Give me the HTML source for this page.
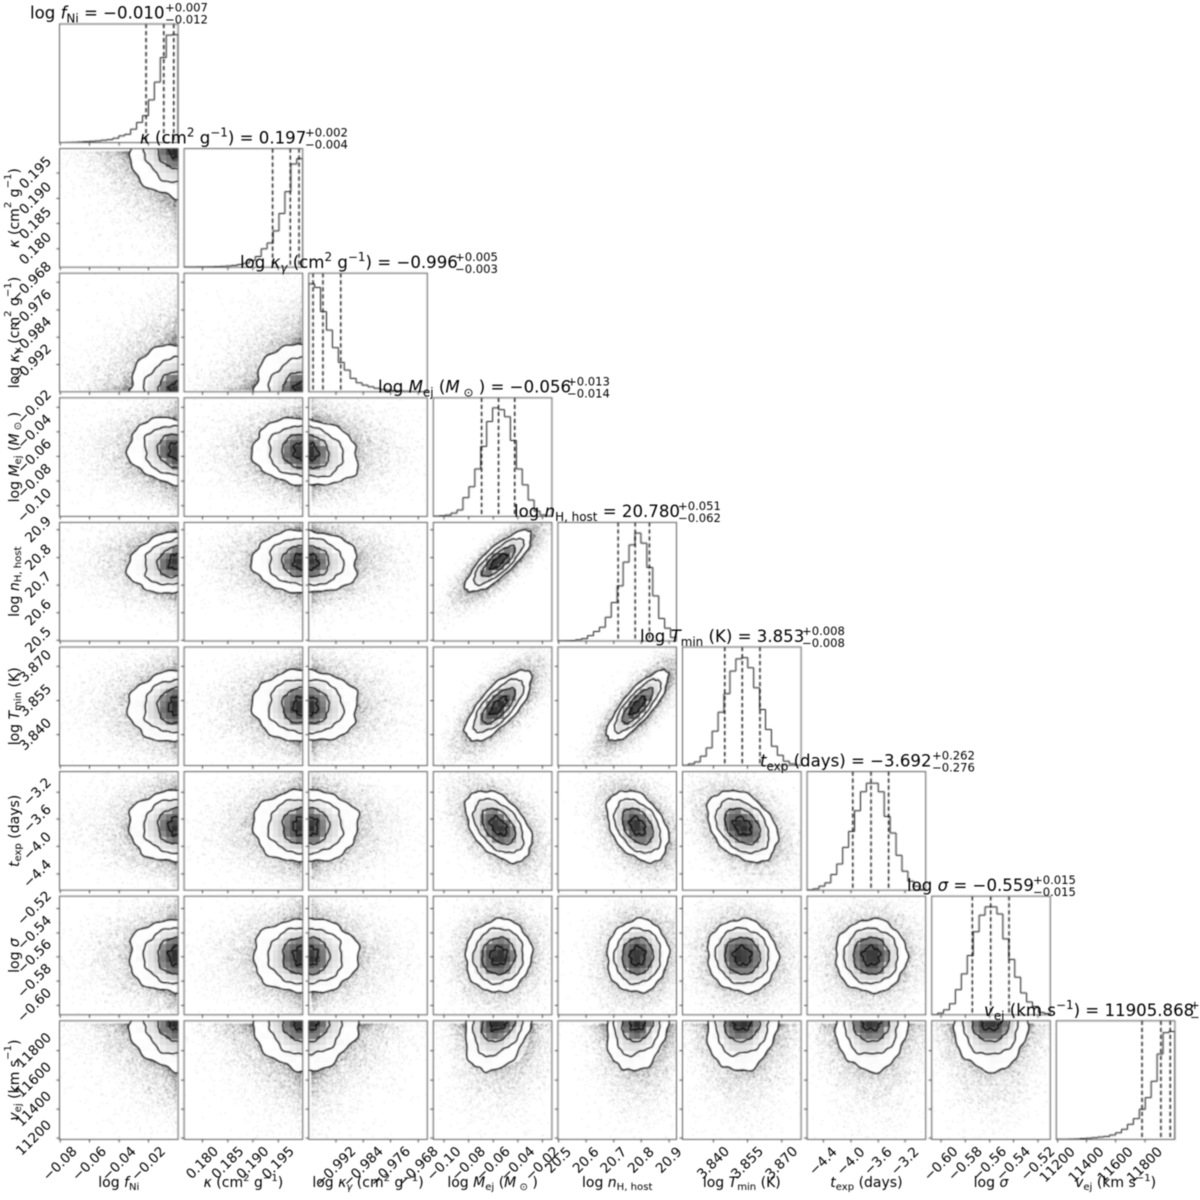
<!DOCTYPE html>
<html><head><meta charset="utf-8"><title>Corner plot</title>
<style>
html,body{margin:0;padding:0;background:#fff;width:1200px;height:1200px;overflow:hidden}
#w{position:relative;width:1200px;height:1200px;filter:blur(.45px)}
canvas,svg{position:absolute;left:0;top:0}
text{font-family:"DejaVu Sans","Liberation Sans",sans-serif;fill:#000;white-space:pre}
.t{font-size:13.6px;text-anchor:middle;dominant-baseline:central}
.l{font-size:14px;text-anchor:middle}
.yl{font-size:14px;text-anchor:middle;dominant-baseline:central}
.h{font-size:16.6px}
.sc{font-size:11.6px}
.i{font-style:italic}
.sb{font-size:.72em;baseline-shift:-.3em}
.su{font-size:.72em;baseline-shift:.6em}
</style></head><body><div id="w">
<canvas id="c" width="1200" height="1200"></canvas>
<svg width="1200" height="1200" viewBox="0 0 1200 1200" xmlns="http://www.w3.org/2000/svg">
<!-- x tick labels -->
<text class="t" transform="translate(60.2 1164) rotate(-45)">−0.08</text>
<text class="t" transform="translate(89.5 1164) rotate(-45)">−0.06</text>
<text class="t" transform="translate(119.2 1164) rotate(-45)">−0.04</text>
<text class="t" transform="translate(148.5 1164) rotate(-45)">−0.02</text>
<text class="t" transform="translate(202.5 1163) rotate(-45)">0.180</text>
<text class="t" transform="translate(227.9 1163) rotate(-45)">0.185</text>
<text class="t" transform="translate(252.9 1163) rotate(-45)">0.190</text>
<text class="t" transform="translate(278.3 1163) rotate(-45)">0.195</text>
<text class="t" transform="translate(336 1167) rotate(-45)">−0.992</text>
<text class="t" transform="translate(363.3 1167) rotate(-45)">−0.984</text>
<text class="t" transform="translate(390.5 1167) rotate(-45)">−0.976</text>
<text class="t" transform="translate(418.3 1167) rotate(-45)">−0.968</text>
<text class="t" transform="translate(444 1164) rotate(-45)">−0.10</text>
<text class="t" transform="translate(468.6 1164) rotate(-45)">−0.08</text>
<text class="t" transform="translate(493.3 1164) rotate(-45)">−0.06</text>
<text class="t" transform="translate(517.9 1164) rotate(-45)">−0.04</text>
<text class="t" transform="translate(542.4 1164) rotate(-45)">−0.02</text>
<text class="t" transform="translate(558.6 1160.5) rotate(-45)">20.5</text>
<text class="t" transform="translate(586.1 1160.5) rotate(-45)">20.6</text>
<text class="t" transform="translate(613.8 1160.5) rotate(-45)">20.7</text>
<text class="t" transform="translate(641.3 1160.5) rotate(-45)">20.8</text>
<text class="t" transform="translate(669.1 1160.5) rotate(-45)">20.9</text>
<text class="t" transform="translate(713.5 1163) rotate(-45)">3.840</text>
<text class="t" transform="translate(747.5 1163) rotate(-45)">3.855</text>
<text class="t" transform="translate(781.8 1163) rotate(-45)">3.870</text>
<text class="t" transform="translate(823.3 1161.5) rotate(-45)">−4.4</text>
<text class="t" transform="translate(851 1161.5) rotate(-45)">−4.0</text>
<text class="t" transform="translate(878.3 1161.5) rotate(-45)">−3.6</text>
<text class="t" transform="translate(905.1 1161.5) rotate(-45)">−3.2</text>
<text class="t" transform="translate(941.1 1164) rotate(-45)">−0.60</text>
<text class="t" transform="translate(965.4 1164) rotate(-45)">−0.58</text>
<text class="t" transform="translate(989.7 1164) rotate(-45)">−0.56</text>
<text class="t" transform="translate(1013.5 1164) rotate(-45)">−0.54</text>
<text class="t" transform="translate(1038 1164) rotate(-45)">−0.52</text>
<text class="t" transform="translate(1057.6 1165) rotate(-45)">11200</text>
<text class="t" transform="translate(1086.5 1165) rotate(-45)">11400</text>
<text class="t" transform="translate(1115.6 1165) rotate(-45)">11600</text>
<text class="t" transform="translate(1145 1165) rotate(-45)">11800</text>
<!-- y tick labels -->
<text class="t" transform="translate(35.5 248.8) rotate(-45)">0.180</text>
<text class="t" transform="translate(35.5 223.4) rotate(-45)">0.185</text>
<text class="t" transform="translate(35.5 198.4) rotate(-45)">0.190</text>
<text class="t" transform="translate(35.5 173) rotate(-45)">0.195</text>
<text class="t" transform="translate(31.5 364.5) rotate(-45)">−0.992</text>
<text class="t" transform="translate(31.5 337.2) rotate(-45)">−0.984</text>
<text class="t" transform="translate(31.5 310) rotate(-45)">−0.976</text>
<text class="t" transform="translate(31.5 282.2) rotate(-45)">−0.968</text>
<text class="t" transform="translate(34.5 505.7) rotate(-45)">−0.10</text>
<text class="t" transform="translate(34.5 481.1) rotate(-45)">−0.08</text>
<text class="t" transform="translate(34.5 456.4) rotate(-45)">−0.06</text>
<text class="t" transform="translate(34.5 431.8) rotate(-45)">−0.04</text>
<text class="t" transform="translate(34.5 407.3) rotate(-45)">−0.02</text>
<text class="t" transform="translate(38.5 640.3) rotate(-45)">20.5</text>
<text class="t" transform="translate(38.5 612.8) rotate(-45)">20.6</text>
<text class="t" transform="translate(38.5 585.1) rotate(-45)">20.7</text>
<text class="t" transform="translate(38.5 557.6) rotate(-45)">20.8</text>
<text class="t" transform="translate(38.5 529.8) rotate(-45)">20.9</text>
<text class="t" transform="translate(35.5 734.6) rotate(-45)">3.840</text>
<text class="t" transform="translate(35.5 700.6) rotate(-45)">3.855</text>
<text class="t" transform="translate(35.5 666.3) rotate(-45)">3.870</text>
<text class="t" transform="translate(37.5 874) rotate(-45)">−4.4</text>
<text class="t" transform="translate(37.5 846.3) rotate(-45)">−4.0</text>
<text class="t" transform="translate(37.5 819) rotate(-45)">−3.6</text>
<text class="t" transform="translate(37.5 792.2) rotate(-45)">−3.2</text>
<text class="t" transform="translate(34.5 1005.4) rotate(-45)">−0.60</text>
<text class="t" transform="translate(34.5 981.1) rotate(-45)">−0.58</text>
<text class="t" transform="translate(34.5 956.8) rotate(-45)">−0.56</text>
<text class="t" transform="translate(34.5 933) rotate(-45)">−0.54</text>
<text class="t" transform="translate(34.5 908.5) rotate(-45)">−0.52</text>
<text class="t" transform="translate(34 1138.1) rotate(-45)">11200</text>
<text class="t" transform="translate(34 1109.2) rotate(-45)">11400</text>
<text class="t" transform="translate(34 1080.1) rotate(-45)">11600</text>
<text class="t" transform="translate(34 1050.7) rotate(-45)">11800</text>
<!-- x axis labels -->
<text class="l" x="118.8" y="1187">log <tspan class="i">f</tspan><tspan class="sb">Ni</tspan></text>
<text class="l" x="243.4" y="1187"><tspan class="i">κ</tspan> (cm<tspan class="su">2</tspan> g<tspan class="su">−1</tspan>)</text>
<text class="l" x="368" y="1187">log <tspan class="i">κ</tspan><tspan class="sb i">γ</tspan> (cm<tspan class="su">2</tspan> g<tspan class="su">−1</tspan>)</text>
<text class="l" x="492.6" y="1187">log <tspan class="i">M</tspan><tspan class="sb">ej</tspan> (<tspan class="i">M</tspan><tspan class="sb"> ⊙</tspan> )</text>
<text class="l" x="617.2" y="1187">log <tspan class="i">n</tspan><tspan class="sb">H, host</tspan></text>
<text class="l" x="741.8" y="1187">log <tspan class="i">T</tspan><tspan class="sb">min</tspan> (K)</text>
<text class="l" x="866.4" y="1187"><tspan class="i">t</tspan><tspan class="sb">exp</tspan> (days)</text>
<text class="l" x="991" y="1187">log <tspan class="i">σ</tspan></text>
<text class="l" x="1115.6" y="1187"><tspan class="i">v</tspan><tspan class="sb">ej</tspan> (km s<tspan class="su">−1</tspan>)</text>
<!-- y axis labels -->
<text class="yl" transform="translate(15 207.9) rotate(-90)"><tspan class="i">κ</tspan> (cm<tspan class="su">2</tspan> g<tspan class="su">−1</tspan>)</text>
<text class="yl" transform="translate(15 332.5) rotate(-90)">log <tspan class="i">κ</tspan><tspan class="sb i">γ</tspan> (cm<tspan class="su">2</tspan> g<tspan class="su">−1</tspan>)</text>
<text class="yl" transform="translate(15 457.1) rotate(-90)">log <tspan class="i">M</tspan><tspan class="sb">ej</tspan> (<tspan class="i">M</tspan><tspan class="sb"> ⊙</tspan> )</text>
<text class="yl" transform="translate(15 581.7) rotate(-90)">log <tspan class="i">n</tspan><tspan class="sb">H, host</tspan></text>
<text class="yl" transform="translate(15 706.3) rotate(-90)">log <tspan class="i">T</tspan><tspan class="sb">min</tspan> (K)</text>
<text class="yl" transform="translate(15 830.9) rotate(-90)"><tspan class="i">t</tspan><tspan class="sb">exp</tspan> (days)</text>
<text class="yl" transform="translate(15 955.5) rotate(-90)">log <tspan class="i">σ</tspan></text>
<text class="yl" transform="translate(15 1080.1) rotate(-90)"><tspan class="i">v</tspan><tspan class="sb">ej</tspan> (km s<tspan class="su">−1</tspan>)</text>
<!-- titles -->
<text class="h" x="30" y="18.5">log <tspan class="i">f</tspan><tspan class="sb">Ni</tspan> = −0.010</text>
<text class="sc" x="165" y="11.5">+0.007</text><text class="sc" x="165" y="23.5">−0.012</text>
<text class="h" x="140" y="143.5"><tspan class="i">κ</tspan> (cm<tspan class="su">2</tspan> g<tspan class="su">−1</tspan>) = 0.197</text>
<text class="sc" x="305" y="136.5">+0.002</text><text class="sc" x="305" y="148.5">−0.004</text>
<text class="h" x="240" y="268">log <tspan class="i">κ</tspan><tspan class="sb i">γ</tspan> (cm<tspan class="su">2</tspan> g<tspan class="su">−1</tspan>) = −0.996</text>
<text class="sc" x="455" y="261">+0.005</text><text class="sc" x="455" y="273">−0.003</text>
<text class="h" x="378" y="392.5">log <tspan class="i">M</tspan><tspan class="sb">ej</tspan> (<tspan class="i">M</tspan><tspan class="sb"> ⊙</tspan> ) = −0.056</text>
<text class="sc" x="567" y="385.5">+0.013</text><text class="sc" x="567" y="397.5">−0.014</text>
<text class="h" x="514" y="517">log <tspan class="i">n</tspan><tspan class="sb">H, host</tspan> = 20.780</text>
<text class="sc" x="678" y="510">+0.051</text><text class="sc" x="678" y="522">−0.062</text>
<text class="h" x="640" y="642">log <tspan class="i">T</tspan><tspan class="sb">min</tspan> (K) = 3.853</text>
<text class="sc" x="802" y="635">+0.008</text><text class="sc" x="802" y="647">−0.008</text>
<text class="h" x="760" y="766.5"><tspan class="i">t</tspan><tspan class="sb">exp</tspan> (days) = −3.692</text>
<text class="sc" x="932" y="759.5">+0.262</text><text class="sc" x="932" y="771.5">−0.276</text>
<text class="h" x="907" y="891">log <tspan class="i">σ</tspan> = −0.559</text>
<text class="sc" x="1033" y="884">+0.015</text><text class="sc" x="1033" y="896">−0.015</text>
<text class="h" x="984" y="1016"><tspan class="i">v</tspan><tspan class="sb">ej</tspan> (km s<tspan class="su">−1</tspan>) = 11905.868</text>
<text class="sc" x="1190" y="1009">+</text><text class="sc" x="1190" y="1021">−</text>
</svg>
</div>
<script>
(function(){
var c=document.getElementById('c').getContext('2d');
c.fillStyle='#fff';c.fillRect(0,0,1200,1200);
var W=118.6,S=124.6;
function L(i){return 59.5+S*i}
function T(j){return 24+S*j}
var V=[{t:'R'},{t:'R'},{t:'L'},{m:.55,s:.14},{m:.672,s:.13},{m:.505,s:.149},{m:.54,s:.151},{m:.497,s:.155},{t:'R'}];
function fw(v,w){
  if(v.t==='R'){return w<=0?1-(.02+.15*Math.pow(-w,1.4)):1-(.02-.15*w);}
  if(v.t==='L'){return w>=0?.02+.15*Math.pow(w,1.4):.02+.15*w;}
  return v.m+v.s*w;
}
function inv(v,f){
  var d;
  if(v.t==='R'){d=1-f;return d>=.02?-Math.pow((d-.02)/.15,1/1.4):(.02-d)/.15;}
  if(v.t==='L'){d=f;return d>=.02?Math.pow((d-.02)/.15,1/1.4):(d-.02)/.15;}
  return (f-v.m)/v.s;
}
var R={'3,4':.8,'3,5':.72,'4,5':.8,'3,6':-.45,'4,6':-.38,'5,6':-.35,'3,8':.25,'4,8':.15,'5,8':.1,'0,4':.2,'0,5':.08,'2,3':-.2,'1,3':-.05,'0,3':-.12,'2,4':-.08,'5,7':-.05,'3,7':.05,'4,7':.05,'2,5':-.05};
var H=[
[.001,.002,.003,.005,.008,.011,.014,.02,.025,.037,.057,.07,.113,.17,.227,.36,.51,.717,.906,.91],
[.001,.001,.002,.002,.003,.005,.007,.01,.015,.023,.034,.057,.09,.155,.204,.306,.453,.637,.87,.915],
[.91,.88,.676,.52,.372,.248,.183,.113,.076,.056,.042,.03,.02,.015,.01,.007,.005,.003,.002,.001],
[.002,.005,.011,.028,.054,.158,.25,.4,.59,.8,.915,.9,.84,.64,.4,.266,.138,.045,.012,.003],
[.001,.002,.004,.01,.02,.045,.08,.116,.2,.324,.465,.665,.81,.91,.825,.62,.38,.19,.108,.03],
[.003,.014,.031,.079,.149,.29,.45,.606,.797,.9,.91,.825,.656,.473,.304,.163,.087,.037,.014,.003],
[.002,.011,.034,.062,.132,.221,.361,.496,.67,.83,.902,.902,.83,.622,.482,.294,.16,.076,.034,.006],
[.003,.014,.042,.093,.212,.345,.5,.7,.84,.91,.91,.85,.64,.467,.317,.184,.108,.07,.02,.01],
[.001,.001,.002,.003,.007,.01,.014,.02,.025,.037,.056,.085,.127,.175,.254,.352,.49,.72,.9,.91]
];
var D=[[.73,.879,.963],[.746,.896,.969],[.037,.12,.27],[.407,.55,.686],[.508,.652,.772],[.356,.504,.653],[.385,.539,.687],[.343,.497,.652],[.723,.882,.961]];
var K=[[.006,.253,.503,.75],[.155,.369,.58,.794],[.23,.46,.69,.924],[.09,.298,.506,.713,.92],[.006,.238,.471,.703,.938],[.261,.548,.837],[.137,.37,.6,.826],[.079,.284,.489,.69,.896],[.011,.255,.5,.748]];
function rng(a){return function(){a|=0;a=a+0x6D2B79F5|0;var t=Math.imul(a^a>>>15,1|a);t=t+Math.imul(t^t>>>7,61|t)^t;return((t^t>>>14)>>>0)/4294967296}}
function gr(r){
  if(r<.5)return 40+r/.5*45;
  if(r<1)return 85+(r-.5)/.5*65;
  if(r<1.5)return 205+(r-1)/.5*40;
  return 250+(r-1.5)/.5*5;
}
function frame(x,y,tv,lv){
  c.strokeStyle='#5a5a5a';c.lineWidth=1;c.strokeRect(x,y,W,W);
  c.beginPath();
  K[tv].forEach(function(f){var px=x+f*W;c.moveTo(px,y+W);c.lineTo(px,y+W+3);});
  if(lv!==null)K[lv].forEach(function(f){var py=y+W-f*W;c.moveTo(x,py);c.lineTo(x-3,py);});
  c.strokeStyle='#444';c.stroke();
}
for(var row=0;row<9;row++){
  for(var col=0;col<=row;col++){
    (function(i,j){
      var x=L(j),y=T(i),b=y+W;
      if(i===j){
        c.save();c.beginPath();c.rect(x,y,W,W);c.clip();
        c.beginPath();c.moveTo(x,b);
        var h=H[i],bw=W/20;
        for(var k=0;k<20;k++){var py=b-h[k]*W;c.lineTo(x+k*bw,py);c.lineTo(x+(k+1)*bw,py);}
        c.lineTo(x+W,b);
        c.strokeStyle='#111';c.lineWidth=1;c.stroke();
        c.setLineDash([4.2,2.8]);c.lineWidth=1.3;c.strokeStyle='#000';
        D[i].forEach(function(f){c.beginPath();c.moveTo(x+f*W,y);c.lineTo(x+f*W,b);c.stroke();});
        c.setLineDash([]);
        c.restore();
        frame(x,y,j,null);
        return;
      }
      var vx=V[j],vy=V[i],rho=R[j+','+i]||0,q=Math.sqrt(1-rho*rho);
      var skew=!!(vx.t||vy.t);
      var rnd=rng(1000*i+j*37+11);
      c.save();c.beginPath();c.rect(x,y,W,W);c.clip();
      // scatter
      c.fillStyle='rgba(0,0,0,.075)';
      var N=26000;
      for(var n=0;n<N;n++){
        var a=Math.sqrt(-2*Math.log(1-rnd())),th=6.2831853*rnd();
        var z1=a*Math.cos(th),z2=a*Math.sin(th);
        if(a<1.85)continue;
        var t=rnd()<.85?1:1.4;
        var w1=t*z1,w2=t*(rho*z1+q*z2);
        if(vx.t==='R'&&w1>0)w1=-w1;
        if(vx.t==='L'&&w1<0)w1=-w1;
        if(vy.t==='R'&&w2>0)w2=-w2;
        if(vy.t==='L'&&w2<0)w2=-w2;
        var px=x+fw(vx,w1)*W,py=b-fw(vy,w2)*W;
        c.fillRect(px,py,1.4,1.4);
      }
      // contour paths
      function poly(r,seed){
        var p1=seed*1.7+i,p2=seed*2.3+j,p3=seed*.9+i*j;
        c.beginPath();
        for(var s=0;s<=140;s++){
          var tt=s/140*6.2831853;
          var rr=r*(1+(r<.6?.12:.028)*Math.sin(5*tt+p1)+(r<.6?.08:.018)*Math.sin(9*tt+p2)+.013*Math.sin(17*tt+p3));
          var ca=Math.cos(tt),sa=Math.sin(tt);
          if(skew){
            ca=(ca<0?-1:1)*Math.pow(Math.abs(ca),.8);
            sa=(sa<0?-1:1)*Math.pow(Math.abs(sa),.8);
          }
          var a1=rr*ca,a2=rr*(rho*ca+q*sa);
          var px=x+fw(vx,a1)*W,py=b-fw(vy,a2)*W;
          if(s===0)c.moveTo(px,py);else c.lineTo(px,py);
        }
        c.closePath();
      }
      poly(2,4);c.fillStyle='#fff';c.fill();
      c.save();poly(2,4);c.clip();
      var bw2=W/20;
      for(var a0=0;a0<20;a0++){for(var b0=0;b0<20;b0++){
        var fx=(a0+.5)/20,fy=(b0+.5)/20;
        var u=inv(vx,fx),v=inv(vy,fy);
        var r=Math.sqrt((u*u-2*rho*u*v+v*v)/(1-rho*rho));
        if(r>2.3)continue;
        var g=Math.round(Math.min(255,Math.max(0,gr(Math.min(r,2))+(rnd()-.5)*(r<1?22:6))));
        c.fillStyle='rgb('+g+','+g+','+g+')';
        var px0=Math.floor(x+a0*bw2),py0=Math.floor(b-(b0+1)*bw2);
        c.fillRect(px0,py0,Math.ceil(bw2)+1,Math.ceil(bw2)+1);
      }}
      c.restore();
      c.strokeStyle='#000';c.lineWidth=1.2;c.lineJoin='round';
      [[2,4],[1.5,6],[1,8],[.5,3]].forEach(function(l){poly(l[0],l[1]);c.stroke();});
      c.restore();
      frame(x,y,j,i);
    })(row,col);
  }
}
})();
</script>
</body></html>
